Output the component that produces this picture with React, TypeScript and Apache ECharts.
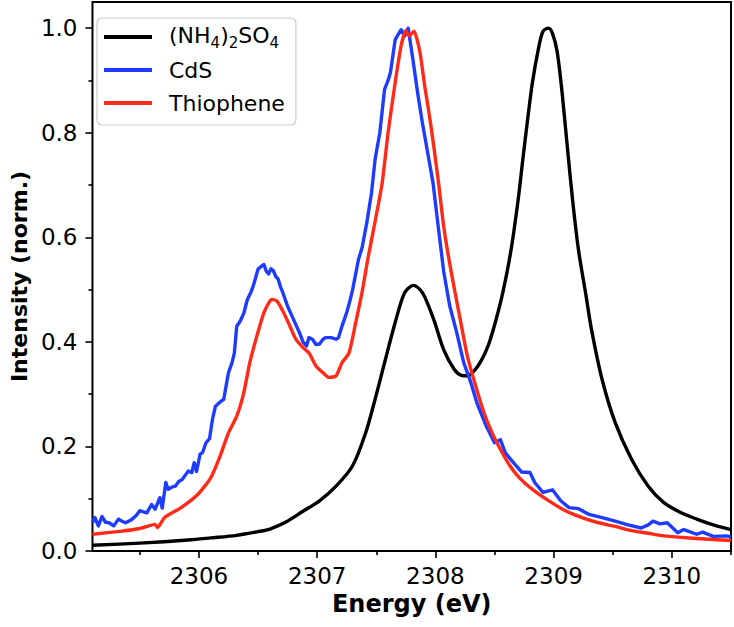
import React, { useEffect, useRef } from 'react';
import * as echarts from 'echarts';

// (NH4)2SO4 reference spectrum: [energy eV, normalized intensity]
const nh4Data: number[][] = [
  [2305.10, 0.011], [2305.50, 0.015], [2305.91, 0.021], [2306.10, 0.025], [2306.32, 0.030],
  [2306.50, 0.037], [2306.60, 0.042], [2306.74, 0.056], [2306.88, 0.076], [2307.02, 0.096],
  [2307.16, 0.124], [2307.30, 0.163], [2307.41, 0.226], [2307.49, 0.290], [2307.57, 0.360],
  [2307.66, 0.437], [2307.74, 0.494], [2307.815, 0.508], [2307.87, 0.500], [2307.91, 0.486],
  [2307.99, 0.440], [2308.07, 0.385], [2308.16, 0.347], [2308.22, 0.336], [2308.27, 0.335],
  [2308.33, 0.345], [2308.39, 0.365], [2308.45, 0.395], [2308.51, 0.440], [2308.57, 0.494],
  [2308.64, 0.576], [2308.70, 0.672], [2308.74, 0.750], [2308.78, 0.825], [2308.82, 0.895],
  [2308.87, 0.959], [2308.91, 0.994], [2308.955, 1.000], [2308.99, 0.990], [2309.03, 0.955],
  [2309.07, 0.880], [2309.115, 0.775], [2309.16, 0.672], [2309.21, 0.576], [2309.27, 0.494],
  [2309.32, 0.424], [2309.41, 0.328], [2309.52, 0.246], [2309.66, 0.175], [2309.80, 0.124],
  [2309.93, 0.093], [2310.07, 0.074], [2310.21, 0.061], [2310.35, 0.050], [2310.50, 0.041],
];

// CdS spectrum
const cdsData: number[][] = [
  [2305.10, 0.054], [2305.12, 0.064], [2305.15, 0.048], [2305.18, 0.066], [2305.21, 0.055],
  [2305.24, 0.054], [2305.28, 0.048], [2305.32, 0.061], [2305.35, 0.057], [2305.38, 0.054],
  [2305.43, 0.060], [2305.47, 0.068], [2305.50, 0.077], [2305.53, 0.075], [2305.56, 0.073],
  [2305.60, 0.089], [2305.63, 0.080], [2305.67, 0.102], [2305.69, 0.082], [2305.72, 0.131],
  [2305.74, 0.118], [2305.77, 0.122], [2305.80, 0.124], [2305.83, 0.133], [2305.86, 0.137],
  [2305.91, 0.153], [2305.94, 0.150], [2305.96, 0.169], [2305.98, 0.152], [2306.01, 0.185],
  [2306.03, 0.188], [2306.06, 0.207], [2306.09, 0.215], [2306.115, 0.252], [2306.14, 0.277],
  [2306.18, 0.285], [2306.21, 0.290], [2306.25, 0.341], [2306.28, 0.360], [2306.30, 0.379],
  [2306.32, 0.430], [2306.35, 0.440], [2306.38, 0.455], [2306.41, 0.481], [2306.44, 0.495],
  [2306.46, 0.507], [2306.50, 0.539], [2306.53, 0.545], [2306.55, 0.548], [2306.57, 0.535],
  [2306.59, 0.530], [2306.61, 0.540], [2306.63, 0.536], [2306.65, 0.525], [2306.67, 0.520],
  [2306.69, 0.505], [2306.71, 0.494], [2306.75, 0.468], [2306.80, 0.443], [2306.85, 0.418],
  [2306.88, 0.400], [2306.91, 0.392], [2306.93, 0.408], [2306.96, 0.405], [2306.99, 0.395],
  [2307.02, 0.396], [2307.05, 0.405], [2307.07, 0.408], [2307.12, 0.408], [2307.16, 0.405],
  [2307.18, 0.408], [2307.21, 0.430], [2307.25, 0.456], [2307.28, 0.481], [2307.30, 0.500],
  [2307.35, 0.558], [2307.38, 0.580], [2307.42, 0.628], [2307.46, 0.685], [2307.49, 0.749],
  [2307.53, 0.800], [2307.57, 0.883], [2307.60, 0.900], [2307.62, 0.915], [2307.66, 0.978],
  [2307.71, 0.997], [2307.74, 0.985], [2307.77, 1.000], [2307.81, 0.940], [2307.85, 0.876],
  [2307.89, 0.819], [2307.93, 0.768], [2307.98, 0.704], [2308.02, 0.628], [2308.07, 0.535],
  [2308.12, 0.470], [2308.18, 0.418], [2308.24, 0.360], [2308.30, 0.322], [2308.35, 0.284],
  [2308.43, 0.239], [2308.50, 0.207], [2308.55, 0.213], [2308.59, 0.188], [2308.66, 0.169],
  [2308.73, 0.151], [2308.80, 0.150], [2308.84, 0.131], [2308.91, 0.112], [2308.99, 0.117],
  [2309.06, 0.096], [2309.13, 0.083], [2309.21, 0.081], [2309.30, 0.070], [2309.41, 0.064],
  [2309.52, 0.057], [2309.63, 0.050], [2309.74, 0.044], [2309.80, 0.050], [2309.84, 0.057],
  [2309.90, 0.052], [2309.96, 0.054], [2310.05, 0.035], [2310.10, 0.041], [2310.21, 0.032],
  [2310.26, 0.036], [2310.35, 0.028], [2310.46, 0.029], [2310.50, 0.027],
];

// Thiophene spectrum
const thiopheneData: number[][] = [
  [2305.10, 0.032], [2305.35, 0.038], [2305.50, 0.043], [2305.63, 0.051], [2305.65, 0.045],
  [2305.71, 0.064], [2305.85, 0.083], [2305.99, 0.108], [2306.10, 0.140], [2306.18, 0.182],
  [2306.25, 0.226], [2306.32, 0.258], [2306.38, 0.303], [2306.43, 0.360], [2306.49, 0.411],
  [2306.55, 0.456], [2306.60, 0.478], [2306.62, 0.481], [2306.66, 0.478], [2306.71, 0.459],
  [2306.77, 0.430], [2306.82, 0.405], [2306.88, 0.389], [2306.93, 0.379], [2306.99, 0.354],
  [2307.05, 0.341], [2307.10, 0.332], [2307.16, 0.335], [2307.21, 0.360], [2307.27, 0.379],
  [2307.32, 0.430], [2307.38, 0.495], [2307.43, 0.560], [2307.49, 0.630], [2307.55, 0.704],
  [2307.60, 0.800], [2307.66, 0.896], [2307.71, 0.966], [2307.75, 0.995], [2307.78, 0.985],
  [2307.80, 0.990], [2307.82, 0.994], [2307.87, 0.953], [2307.91, 0.889], [2307.95, 0.832],
  [2307.99, 0.768], [2308.03, 0.698], [2308.07, 0.621], [2308.12, 0.551], [2308.17, 0.490],
  [2308.21, 0.443], [2308.27, 0.373], [2308.34, 0.316], [2308.41, 0.265], [2308.48, 0.226],
  [2308.55, 0.194], [2308.63, 0.163], [2308.71, 0.140], [2308.82, 0.118], [2308.96, 0.096],
  [2309.10, 0.077], [2309.24, 0.064], [2309.38, 0.054], [2309.52, 0.047], [2309.66, 0.039],
  [2309.80, 0.034], [2309.93, 0.029], [2310.08, 0.026], [2310.21, 0.024], [2310.35, 0.022],
  [2310.50, 0.020],
];

const seriesNames = ['(NH4)2SO4', 'CdS', 'Thiophene'];
const seriesColors = ['#000000', '#1d3cff', '#ff2a17'];
const seriesSmooth = [0.3, 0, 0.2];

const xTicks = [2306, 2307, 2308, 2309, 2310];
const xMinorTicks = [2305.5, 2306.5, 2307.5, 2308.5, 2309.5, 2310.5];
const yTicks = [0, 0.2, 0.4, 0.6, 0.8, 1.0];
const yMinorTicks = [0.1, 0.3, 0.5, 0.7, 0.9];

const X_MIN = 2305.1;
const X_MAX = 2310.5;
const Y_MIN = 0;
const Y_MAX = 1.05;

const FONT = 'DejaVu Sans';

export default function App() {
  const ref = useRef<HTMLDivElement>(null);

  useEffect(() => {
    if (!ref.current) return;
    const chart = echarts.init(ref.current, null, { renderer: 'svg' });
    const tickStyle = { color: '#000', width: 1.6 };
    chart.setOption({
      animation: false,
      backgroundColor: '#ffffff',
      grid: {
        left: 82,
        right: 3,
        top: 2,
        bottom: 76,
        show: true,
        borderColor: '#000',
        borderWidth: 2,
        backgroundColor: 'transparent',
      },
      legend: {
        orient: 'vertical',
        left: 97,
        top: 18,
        padding: [6, 11, 9, 7],
        itemGap: 7,
        itemWidth: 48,
        itemHeight: 4,
        icon: 'rect',
        backgroundColor: 'rgba(255,255,255,0.85)',
        borderColor: '#cccccc',
        borderWidth: 1.2,
        borderRadius: 5,
        data: seriesNames,
        formatter: (name: string) =>
          name === '(NH4)2SO4'
            ? '{n|(NH}{s|4}{n|)}{s|2}{n|SO}{s|4}'
            : name,
        textStyle: {
          fontFamily: FONT,
          fontSize: 22,
          lineHeight: 26,
          color: '#000',
          padding: [0, 0, 0, 12],
          rich: {
            n: {
              fontFamily: FONT,
              fontSize: 22,
              lineHeight: 22,
              padding: [0, 0, 4, 0],
              color: '#000',
            },
            s: {
              fontFamily: FONT,
              fontSize: 15,
              lineHeight: 15,
              padding: [11, 0, 0, 0],
              color: '#000',
            },
          },
        },
      },
      xAxis: [
        {
          type: 'value',
          min: X_MIN,
          max: X_MAX,
          name: 'Energy (eV)',
          nameLocation: 'middle',
          nameGap: 40,
          nameTextStyle: { fontFamily: FONT, fontSize: 24, fontWeight: 'bold', color: '#000' },
          axisLine: { show: false },
          splitLine: { show: false },
          axisTick: { show: true, length: 7, lineStyle: tickStyle, customValues: xTicks },
          axisLabel: {
            show: true,
            customValues: xTicks,
            margin: 13,
            fontFamily: FONT,
            fontSize: 23,
            color: '#000',
            formatter: (v: number) => String(Math.round(v)),
          },
        },
        {
          type: 'value',
          min: X_MIN,
          max: X_MAX,
          position: 'bottom',
          axisLine: { show: false },
          splitLine: { show: false },
          axisLabel: { show: false },
          axisTick: { show: true, length: 4, lineStyle: tickStyle, customValues: xMinorTicks },
        },
      ],
      yAxis: [
        {
          type: 'value',
          min: Y_MIN,
          max: Y_MAX,
          name: 'Intensity (norm.)',
          nameLocation: 'middle',
          nameGap: 58,
          nameTextStyle: { fontFamily: FONT, fontSize: 22, fontWeight: 'bold', color: '#000' },
          axisLine: { show: false },
          splitLine: { show: false },
          axisTick: { show: true, length: 7, lineStyle: tickStyle, customValues: yTicks },
          axisLabel: {
            show: true,
            customValues: yTicks,
            margin: 15,
            fontFamily: FONT,
            fontSize: 23,
            color: '#000',
            formatter: (v: number) => v.toFixed(1),
          },
        },
        {
          type: 'value',
          min: Y_MIN,
          max: Y_MAX,
          position: 'left',
          axisLine: { show: false },
          splitLine: { show: false },
          axisLabel: { show: false },
          axisTick: { show: true, length: 4, lineStyle: tickStyle, customValues: yMinorTicks },
        },
      ],
      series: [nh4Data, cdsData, thiopheneData].map((d, i) => ({
        name: seriesNames[i],
        type: 'line',
        xAxisIndex: 0,
        yAxisIndex: 0,
        data: d,
        showSymbol: false,
        symbol: 'none',
        smooth: seriesSmooth[i],
        color: seriesColors[i],
        lineStyle: { color: seriesColors[i], width: 3.4, join: 'round' },
        z: 2 + i,
      })),
    });
    return () => chart.dispose();
  }, []);

  return (
    <div
      ref={ref}
      style={{ position: 'fixed', left: 0, top: 0, width: 734, height: 627, background: '#fff' }}
    />
  );
}
